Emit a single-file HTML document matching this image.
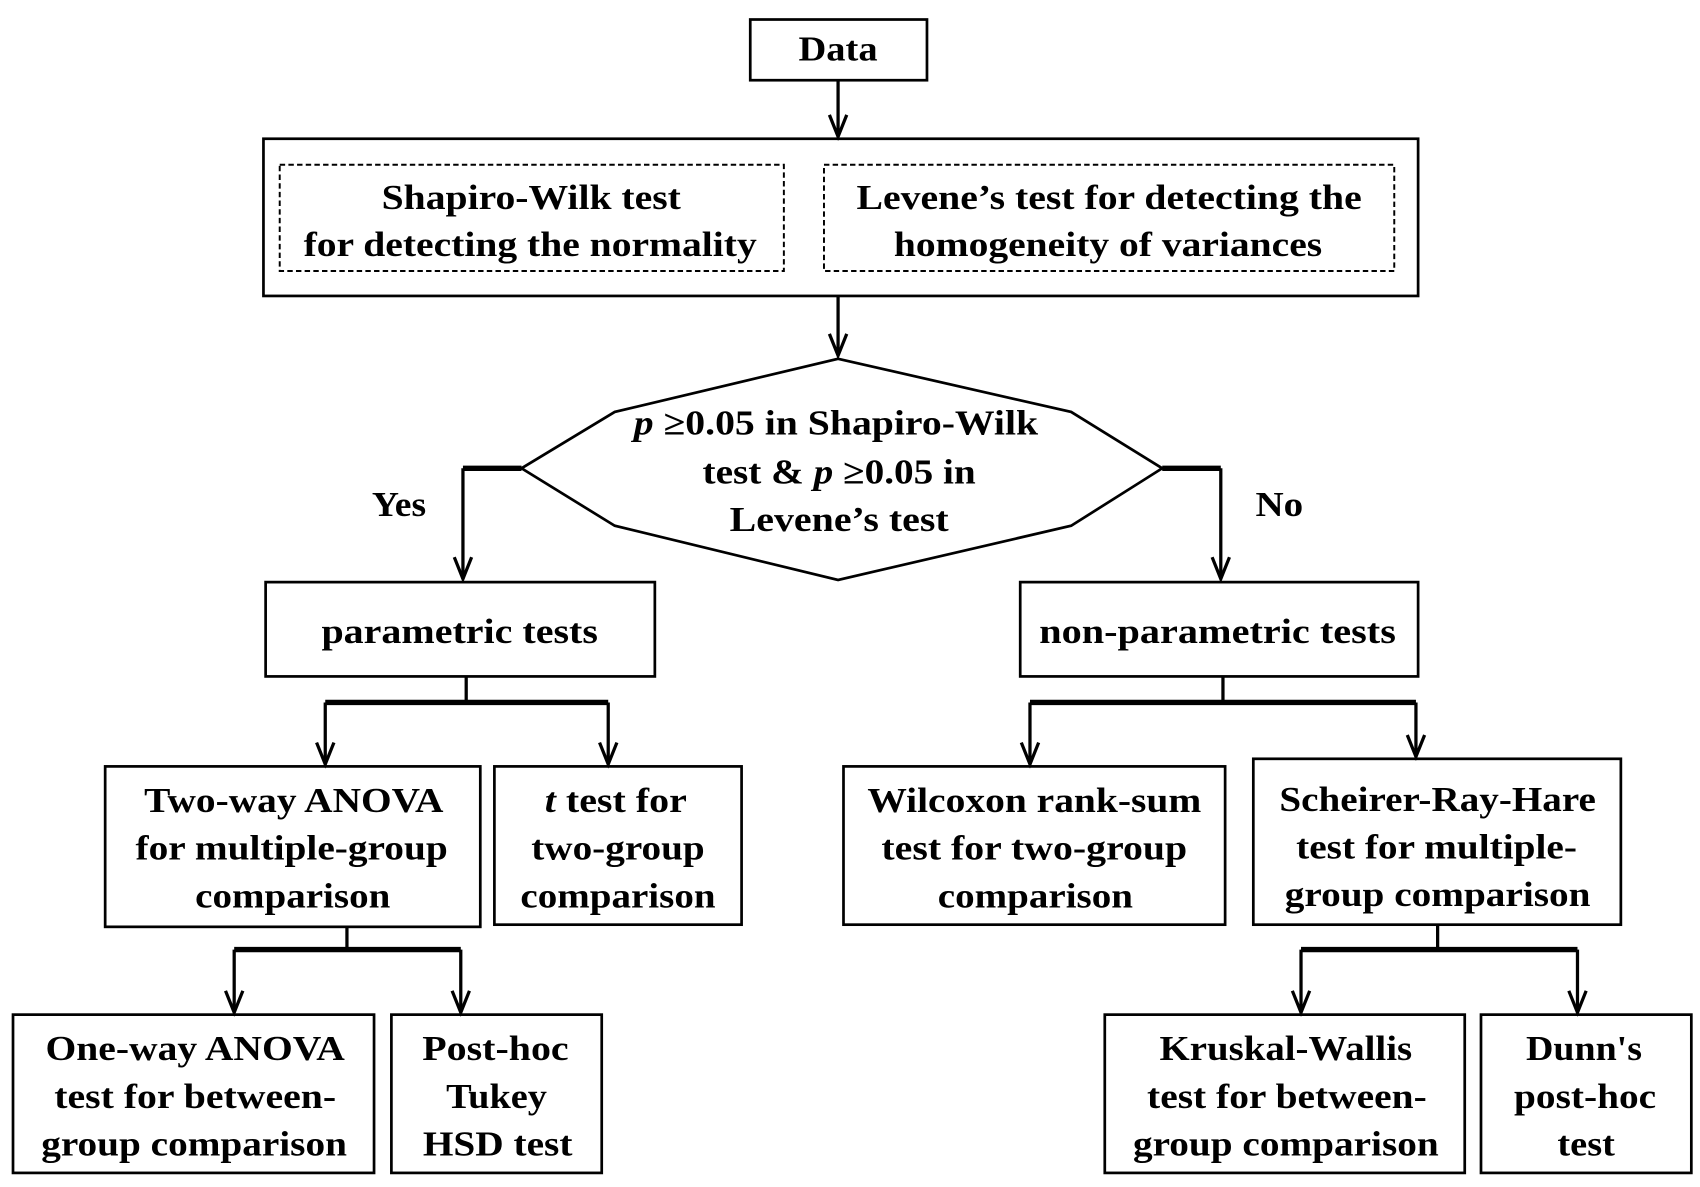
<!DOCTYPE html>
<html><head><meta charset="utf-8"><style>
html,body{margin:0;padding:0;background:#fff;}
svg{display:block;}
text{font-family:"Liberation Serif",serif;font-weight:bold;font-size:32px;fill:#000;text-anchor:middle;}
</style></head><body>
<svg width="1700" height="1187" viewBox="0 0 1568 1095" preserveAspectRatio="none" xmlns="http://www.w3.org/2000/svg">
<defs>
<marker id="a" markerWidth="20" markerHeight="24" refX="10" refY="22" orient="auto" markerUnits="userSpaceOnUse" viewBox="0 0 20 24">
</marker>
</defs>
<g fill="none" stroke="#000" stroke-width="2.5">
<rect x="692" y="18" width="163" height="56"/>
<rect x="243" y="128" width="1065" height="145"/>
<rect x="258" y="152" width="465" height="98" stroke-dasharray="5,3" stroke-width="1.8"/>
<rect x="760" y="152" width="526" height="98" stroke-dasharray="5,3" stroke-width="1.8"/>
<polygon points="773,331 988,380 1072,432 988,485 773,535 567,485 481,432 567,380"/>
<rect x="245" y="537" width="359" height="87"/>
<rect x="941" y="537" width="367" height="87"/>
<rect x="97" y="707" width="346" height="148"/>
<rect x="456" y="707" width="228" height="146"/>
<rect x="778" y="707" width="352" height="146"/>
<rect x="1156" y="700" width="339" height="153"/>
<rect x="12" y="936" width="333" height="146"/>
<rect x="361" y="936" width="194" height="146"/>
<rect x="1019" y="936" width="332" height="146"/>
<rect x="1366" y="936" width="194" height="146"/>
</g>
<g fill="none" stroke="#000" stroke-width="3">
<!-- vertical lines -->
<path d="M773 74V126 M773 273V328"/>
<path d="M427 432V534 M1126 432V534"/>
<path d="M430 624V648 M300 648V705 M561 648V705"/>
<path d="M1128 624V648 M950 648V705 M1306 648V698"/>
<path d="M320 855V876 M216 876V934 M425 876V934"/>
<path d="M1326 853V876 M1200 876V934 M1455 876V934"/>
</g>
<g fill="none" stroke="#000" stroke-width="5">
<path d="M481 432H427 M1072 432H1126"/>
<path d="M300 648H561 M950 648H1306 M216 876H425 M1200 876H1455"/>
</g>
<g fill="none" stroke="#000" stroke-width="3">
<path d="M765 106L773 126L781 106 M765 308L773 328L781 308"/>
<path d="M419 514L427 534L435 514 M1118 514L1126 534L1134 514"/>
<path d="M292 685L300 705L308 685 M553 685L561 705L569 685"/>
<path d="M942 685L950 705L958 685 M1298 678L1306 698L1314 678"/>
<path d="M208 914L216 934L224 914 M417 914L425 934L433 914"/>
<path d="M1192 914L1200 934L1208 914 M1447 914L1455 934L1463 914"/>
</g>
<g>
<text x="773" y="56" textLength="73" lengthAdjust="spacingAndGlyphs">Data</text>
<text x="490" y="193" textLength="276" lengthAdjust="spacingAndGlyphs">Shapiro-Wilk test</text>
<text x="489" y="236" textLength="418" lengthAdjust="spacingAndGlyphs">for detecting the normality</text>
<text x="1023" y="193" textLength="466" lengthAdjust="spacingAndGlyphs">Levene’s test for detecting the</text>
<text x="1022" y="236" textLength="395" lengthAdjust="spacingAndGlyphs">homogeneity  of variances</text>
<text x="771" y="401" textLength="373" lengthAdjust="spacingAndGlyphs"><tspan font-style="italic">p</tspan> ≥0.05 in Shapiro-Wilk</text>
<text x="774" y="446" textLength="252" lengthAdjust="spacingAndGlyphs">test &amp; <tspan font-style="italic">p</tspan> ≥0.05 in</text>
<text x="774" y="490" textLength="202" lengthAdjust="spacingAndGlyphs">Levene’s test</text>
<text x="368" y="476" textLength="50" lengthAdjust="spacingAndGlyphs" font-weight="normal">Yes</text>
<text x="1180" y="476" textLength="44" lengthAdjust="spacingAndGlyphs" font-weight="normal">No</text>
<text x="424" y="593" textLength="255" lengthAdjust="spacingAndGlyphs">parametric  tests</text>
<text x="1123" y="593" textLength="329" lengthAdjust="spacingAndGlyphs">non-parametric  tests</text>
<text x="271" y="749" textLength="276" lengthAdjust="spacingAndGlyphs">Two-way ANOVA</text>
<text x="269" y="793" textLength="288" lengthAdjust="spacingAndGlyphs">for multiple-group</text>
<text x="270" y="837" textLength="180" lengthAdjust="spacingAndGlyphs">comparison</text>
<text x="568" y="749" textLength="131" lengthAdjust="spacingAndGlyphs"><tspan font-style="italic">t</tspan> test for</text>
<text x="570" y="793" textLength="160" lengthAdjust="spacingAndGlyphs">two-group</text>
<text x="570" y="837" textLength="180" lengthAdjust="spacingAndGlyphs">comparison</text>
<text x="954" y="749" textLength="308" lengthAdjust="spacingAndGlyphs">Wilcoxon  rank-sum</text>
<text x="954" y="793" textLength="282" lengthAdjust="spacingAndGlyphs">test for two-group</text>
<text x="955" y="837" textLength="180" lengthAdjust="spacingAndGlyphs">comparison</text>
<text x="1326" y="748" textLength="292" lengthAdjust="spacingAndGlyphs">Scheirer-Ray-Hare</text>
<text x="1325" y="792" textLength="259" lengthAdjust="spacingAndGlyphs">test for multiple-</text>
<text x="1326" y="836" textLength="282" lengthAdjust="spacingAndGlyphs">group comparison</text>
<text x="180" y="978" textLength="276" lengthAdjust="spacingAndGlyphs">One-way ANOVA</text>
<text x="180" y="1022" textLength="260" lengthAdjust="spacingAndGlyphs">test for between-</text>
<text x="179" y="1066" textLength="282" lengthAdjust="spacingAndGlyphs">group comparison</text>
<text x="457" y="978" textLength="135" lengthAdjust="spacingAndGlyphs">Post-hoc</text>
<text x="458" y="1022" textLength="93" lengthAdjust="spacingAndGlyphs">Tukey</text>
<text x="459" y="1066" textLength="138" lengthAdjust="spacingAndGlyphs">HSD test</text>
<text x="1186" y="978" textLength="233" lengthAdjust="spacingAndGlyphs">Kruskal-Wallis</text>
<text x="1187" y="1022" textLength="258" lengthAdjust="spacingAndGlyphs">test for between-</text>
<text x="1186" y="1066" textLength="282" lengthAdjust="spacingAndGlyphs">group comparison</text>
<text x="1461" y="978" textLength="107" lengthAdjust="spacingAndGlyphs">Dunn's</text>
<text x="1462" y="1022" textLength="131" lengthAdjust="spacingAndGlyphs">post-hoc</text>
<text x="1463" y="1066" textLength="53" lengthAdjust="spacingAndGlyphs">test</text>
</g>
</svg>
</body></html>
